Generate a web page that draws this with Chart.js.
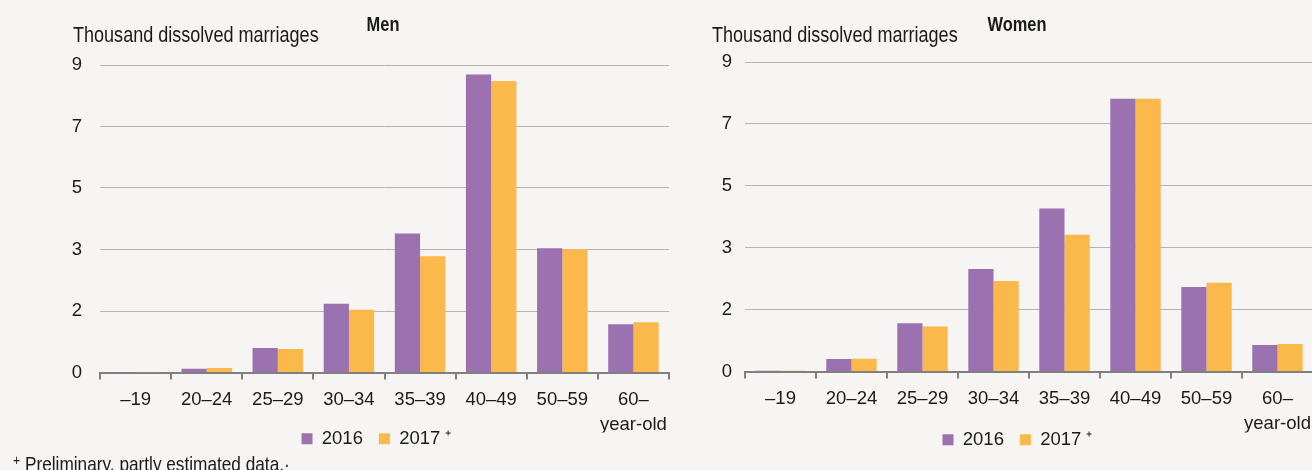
<!DOCTYPE html>
<html>
<head>
<meta charset="utf-8">
<script src="https://cdn.jsdelivr.net/npm/chart.js@4/dist/chart.umd.min.js"></script>
<style>
  html, body { margin: 0; padding: 0; }
  body {
    width: 1312px; height: 470px; overflow: hidden; position: relative;
    background: #f6f5f3;
    font-family: 'Liberation Sans', Arial, sans-serif;
    color: #1a1a1a;
  }
  canvas { position: absolute; top: 0; }
  .lbl { position: absolute; white-space: nowrap; line-height: 1; }
  .cap { font-size: 22px; top: 24px; transform: scaleX(0.82); transform-origin: left top; }
  .ttl { font-size: 20px; font-weight: bold; top: 14px; width: 200px; text-align: center; transform: scaleX(0.82); }
  .note { font-size: 21px; top: 452px; left: 13px; transform: scaleX(0.82); transform-origin: left top; }
  .note sup { font-size: 15px; vertical-align: 6px; }
</style>
</head>
<body>
<canvas id="menChart" width="760" height="477" style="left:0"></canvas>
<canvas id="womenChart" width="634" height="477" style="left:700px"></canvas>

<div class="lbl cap" style="left:73px">Thousand dissolved marriages</div>
<div class="lbl ttl" style="left:283px">Men</div>
<div class="lbl cap" style="left:712px">Thousand dissolved marriages</div>
<div class="lbl ttl" style="left:917px">Women</div>
<div class="lbl note"><sup>+</sup> Preliminary, partly estimated data.·</div>

<script>
// age groups of the divorcing spouses
const ageGroups = ["–19", "20–24", "25–29", "30–34", "35–39", "40–49", "50–59", ["60–", "year-old"]];
const seriesNames = ["2016", "2017 ⁺"];

// thousand dissolved marriages
const men2016 = [0.01, 0.11, 0.72, 2.01, 4.07, 8.72, 3.64, 1.41];
const men2017 = [0.01, 0.13, 0.69, 1.84, 3.40, 8.53, 3.61, 1.47];
const women2016 = [0.02, 0.36, 1.40, 2.98, 4.74, 7.93, 2.46, 0.77];
const women2017 = [0.02, 0.37, 1.31, 2.63, 3.98, 7.93, 2.58, 0.80];

// gridlines sit at even fifths of the axis, labelled as published
const yTickValues = [0, 1.8, 3.6, 5.4, 7.2, 9];
const yTickLabels = ["0", "2", "3", "5", "7", "9"];

const colors = ["#9b71b0", "#fbb84b"];
const textColor = "#1a1a1a";
const fontSize = 18.5;

Chart.defaults.font.family = "'Liberation Sans', Arial, sans-serif";
Chart.defaults.color = textColor;

// the legend sits tight under the two-line tick labels, centred under the panel
const legendNudge = {
  id: "legendNudge",
  afterLayout(chart, args, opts) {
    const lg = chart.legend;
    if (!lg) return;
    lg.top += opts.dy;
    lg.bottom += opts.dy;
    lg.left += opts.dx;
    lg.right += opts.dx;
  }
};

function makeChart(id, v2016, v2017, opt) {
  const ctx = document.getElementById(id).getContext("2d");
  return new Chart(ctx, {
    type: "bar",
    data: {
      labels: ageGroups,
      datasets: [v2016, v2017].map((d, i) => ({
        label: seriesNames[i],
        data: d,
        backgroundColor: colors[i],
        borderWidth: 0,
        categoryPercentage: 0.71,
        barPercentage: 1.0
      }))
    },
    plugins: [legendNudge],
    options: {
      responsive: false,
      animation: false,
      devicePixelRatio: 1,
      layout: { padding: { top: opt.top, right: opt.right, bottom: 0, left: 0 } },
      plugins: {
        title: { display: false },
        tooltip: { enabled: false },
        legendNudge: { dx: opt.legendDx, dy: opt.legendDy },
        legend: {
          position: "bottom",
          labels: {
            font: { size: fontSize },
            color: textColor,
            boxWidth: 11,
            boxHeight: 11,
            padding: 16
          }
        }
      },
      scales: {
        x: {
          afterFit: s => { s.height = opt.xHeight; },
          border: { color: "#7f7f7f", width: 2 },
          grid: {
            drawOnChartArea: false,
            drawTicks: true,
            tickLength: 7,
            color: "#7f7f7f",
            lineWidth: 2
          },
          ticks: {
            font: { size: fontSize, lineHeight: 1.36 },
            color: textColor,
            padding: 8,
            maxRotation: 0,
            autoSkip: false
          }
        },
        y: {
          min: 0,
          max: 9,
          afterFit: s => { s.width = opt.yWidth; },
          afterBuildTicks: s => { s.ticks = yTickValues.map(v => ({ value: v })); },
          border: { display: false },
          grid: { color: "#b4b4b4", lineWidth: 1, drawTicks: false },
          ticks: {
            font: { size: fontSize },
            color: textColor,
            padding: opt.yPad,
            callback: (v, i) => yTickLabels[i]
          }
        }
      }
    }
  });
}

makeChart("menChart", men2016, men2017,
  { top: 65, right: 91, yWidth: 100, yPad: 18, xHeight: 60, legendDx: 42, legendDy: -19 });
makeChart("womenChart", women2016, women2017,
  { top: 62, right: 21, yWidth: 45, yPad: 13, xHeight: 61, legendDx: 11, legendDy: -18 });
</script>
</body>
</html>
